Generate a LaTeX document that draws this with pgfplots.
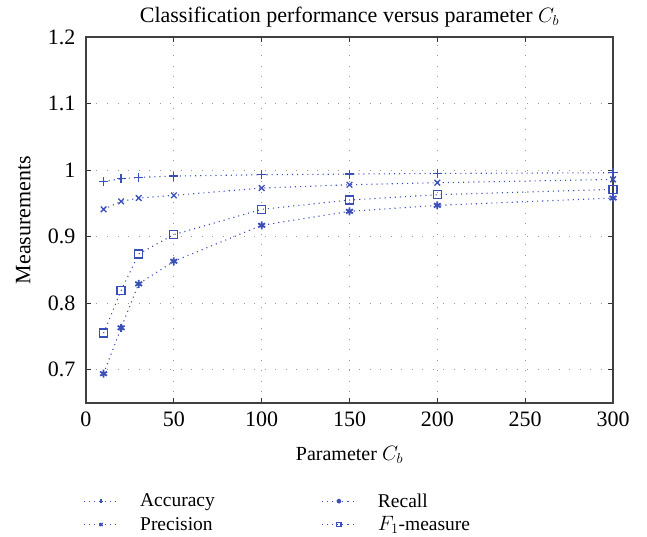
\documentclass[border=0pt]{standalone}
\usepackage{fontspec}
\setmainfont{Liberation Serif}
\usepackage{pgfplots}
\pgfplotsset{compat=1.18}
\definecolor{serblue}{RGB}{59,79,185}
\begin{document}
\begin{tikzpicture}
\begin{axis}[
  name=ax,
  scale only axis,
  width=527pt, height=366pt,
  xmin=0, xmax=300, ymin=0.65, ymax=1.2,
  xtick={0,50,...,300},
  ytick={0.7,0.8,0.9,1,1.1,1.2},
  /pgf/number format/assume math mode=true,
  tick label style={font=\fontsize{22}{24}\selectfont},
  axis line style={draw=black!75, line width=1.1pt},
  tick style={draw=black!80, line width=1.1pt},
  major tick length=5pt,
  tick align=inside,
  xmajorgrids, ymajorgrids,
  grid style={draw=black!40, line width=1pt, dash pattern=on 1pt off 9.5pt},
  title={Classification performance versus parameter $C_b$},
  title style={font=\fontsize{22}{24}\selectfont, at={(0.5,1)}, anchor=south, yshift=0pt},
  xlabel={Parameter $C_b$},
  xlabel style={font=\fontsize{20}{22}\selectfont, at={(0.5,0)}, anchor=north, yshift=-40pt},
  ylabel={Measurements},
  ylabel style={font=\fontsize{22}{24}\selectfont, at={(0,0.5)}, anchor=south, xshift=0pt, yshift=52pt},
  xticklabel style={yshift=-5pt},
  yticklabel style={xshift=-7pt},
  legend columns=2,
  transpose legend,
  legend style={draw=none, fill=none, at={(-0.005,-0.243)}, anchor=north west,
    font=\fontsize{19.5}{22}\selectfont, row sep=5pt, inner sep=0pt,
    nodes={inner sep=1.5pt},
    /tikz/every odd column/.append style={column sep=20pt},
    /tikz/every even column/.append style={column sep=105pt}},
  legend cell align=left,
  legend image code/.code={\draw[mark repeat=2,mark phase=2,#1,mark size=2.2pt] plot coordinates {(0pt,0pt)(17pt,0pt)(34pt,0pt)};},
]
\addplot[color=serblue, line width=1.1pt, dash pattern=on 1.1pt off 4pt, mark=+, mark size=4.5pt, mark options={solid, draw=serblue, fill=serblue, line width=1.3pt}] coordinates {(10,0.983)(20,0.987)(30,0.989)(50,0.991)(100,0.993)(150,0.994)(200,0.995)(300,0.996)};
\addlegendentry{Accuracy}
\addplot[color=serblue, line width=1.1pt, dash pattern=on 1.1pt off 4pt, mark=x, mark size=4pt, mark options={solid, draw=serblue, fill=serblue, line width=1.3pt}] coordinates {(10,0.941)(20,0.953)(30,0.958)(50,0.962)(100,0.973)(150,0.978)(200,0.981)(300,0.986)};
\addlegendentry{Precision}
\addplot[color=serblue, line width=1.1pt, dash pattern=on 1.1pt off 4pt, mark=asterisk, mark size=4pt, mark options={solid, draw=serblue, fill=serblue, line width=1.8pt}] coordinates {(10,0.694)(20,0.763)(30,0.829)(50,0.863)(100,0.917)(150,0.938)(200,0.947)(300,0.958)};
\addlegendentry{Recall}
\addplot[color=serblue, line width=1.1pt, dash pattern=on 1.1pt off 4pt, mark=square, mark size=4pt, mark options={solid, draw=serblue, fill=none, line width=1.3pt}] coordinates {(10,0.755)(20,0.819)(30,0.874)(50,0.903)(100,0.941)(150,0.955)(200,0.963)(300,0.971)};
\addlegendentry{$F_1$-measure}
\end{axis}
\path (ax.south west) ++(-86pt,-134pt) coordinate (bl);
\path (ax.north east) ++(34pt,37pt) coordinate (tr);
\path (bl) rectangle (tr);
\end{tikzpicture}
\end{document}
